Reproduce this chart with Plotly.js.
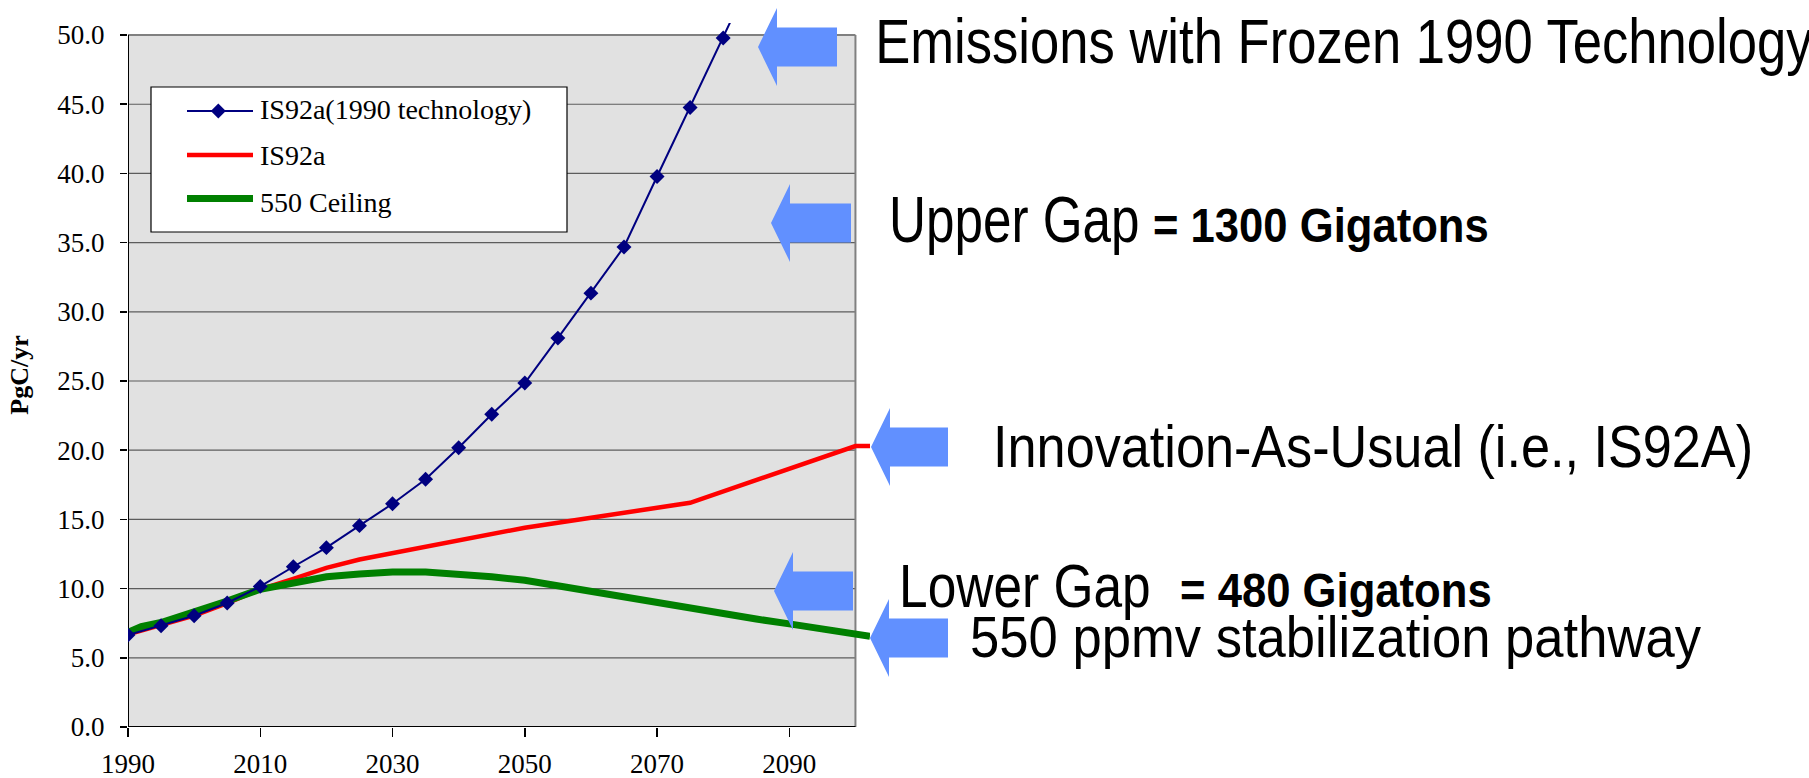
<!DOCTYPE html>
<html><head><meta charset="utf-8">
<script src="https://cdn.plot.ly/plotly-3.0.1.min.js"></script>
<style>html,body{margin:0;padding:0;background:#fff;} #chart{width:1809px;height:778px;}</style>
</head><body><div id="chart"></div>
<script>
// ---------------- data ----------------
const blueYears  = [1990,1995,2000,2005,2010,2015,2020,2025,2030,2035,2040,2045,2050,2055,2060,2065,2070,2075,2080,2085];
const blueValues = [6.65,7.32,8.04,8.96,10.16,11.58,12.96,14.55,16.13,17.9,20.18,22.6,24.85,28.1,31.35,34.69,39.78,44.77,49.78,54.9];
const redYears   = [1990,1995,2000,2005,2010,2015,2020,2025,2050,2075,2100,2102.2];
const redValues  = [6.7,7.35,8.05,8.95,9.95,10.7,11.5,12.1,14.4,16.2,20.3,20.3];
const greenYears  = [1990,1992,1995,2000,2005,2010,2015,2020,2025,2030,2035,2040,2045,2050,2055,2060,2065,2070,2075,2080,2085,2090,2095,2100,2102.2];
const greenValues = [6.85,7.25,7.55,8.3,9.1,9.95,10.45,10.85,11.05,11.2,11.2,11.05,10.85,10.6,10.2,9.8,9.4,9.0,8.55,8.1,7.8,7.45,7.05,6.65,6.55];
const seriesNames = ['IS92a(1990 technology)','IS92a','550 Ceiling'];
const xTickVals = [1990,2010,2030,2050,2070,2090];
const yTickVals = [0,5,10,15,20,25,30,35,40,45,50];
const yTickText = yTickVals.map(v => v.toFixed(1));
const yTitle = 'PgC/yr';
const calloutTexts = [
  'Emissions with Frozen 1990 Technology',
  'Upper Gap',
  '= 1300 Gigatons',
  'Innovation-As-Usual (i.e., IS92A)',
  'Lower Gap',
  '= 480 Gigatons',
  '550 ppmv stabilization pathway'
];

// ---------------- layout helpers ----------------
const W = 1809, H = 778, M = {l:128, r:939, t:23, b:51};
const PW = W - M.l - M.r, PH = H - M.t - M.b;
const px = v => (v - M.l) / PW;
const py = v => (H - M.b - v) / PH;
const X0 = 1990, X1 = 2100, YTOP = 50;

const BLUE = '#000080', RED = '#FF0000', GREEN = '#008000', ARROW = '#6190FF';
const serif = 'Liberation Serif, Times New Roman, serif';
const sans = 'Liberation Sans, Arial, sans-serif';

const shapes = [];
shapes.push({type:'rect', xref:'x', yref:'y', x0:X0, x1:X1, y0:0, y1:YTOP, fillcolor:'#E1E1E1', line:{width:0}, layer:'below'});
yTickVals.filter(v => v > 0 && v < YTOP).forEach(v => shapes.push({type:'line', xref:'x', yref:'y', x0:X0, x1:X1, y0:v, y1:v, line:{color:'#5c5c5c', width:1.2}, layer:'below'}));
shapes.push({type:'line', xref:'x', yref:'y', x0:X0, x1:X1, y0:YTOP, y1:YTOP, line:{color:'#808080', width:2}, layer:'below'});
shapes.push({type:'line', xref:'x', yref:'y', x0:X1, x1:X1, y0:0, y1:YTOP, line:{color:'#808080', width:2}, layer:'below'});
shapes.push({type:'line', xref:'x', yref:'y', x0:X0, x1:X0, y0:0, y1:YTOP, line:{color:'#000', width:2}, layer:'below'});
shapes.push({type:'line', xref:'x', yref:'y', x0:X0, x1:X1, y0:0, y1:0, line:{color:'#000', width:2}, layer:'below'});
xTickVals.filter(v => v > X0).forEach(v => shapes.push({type:'line', xref:'x', yref:'paper', x0:v, x1:v, y0:0, y1:7/PH, line:{color:'#000', width:1.5}, layer:'below'}));

// arrows (pixel geometry)
const arrows = [
  {tx:758, ty:47,  hx:777, ex:837},
  {tx:771, ty:223, hx:790, ex:851},
  {tx:871, ty:447, hx:890, ex:948},
  {tx:774, ty:591, hx:793, ex:853},
  {tx:870, ty:638, hx:889, ex:948}
];
arrows.forEach(a => {
  const hh = 39, sh = 19.5;
  const pts = [[a.tx,a.ty],[a.hx,a.ty-hh],[a.hx,a.ty-sh],[a.ex,a.ty-sh],[a.ex,a.ty+sh],[a.hx,a.ty+sh],[a.hx,a.ty+hh]];
  const path = 'M' + pts.map(p => px(p[0]).toFixed(5) + ',' + py(p[1]).toFixed(5)).join(' L') + ' Z';
  shapes.push({type:'path', xref:'paper', yref:'paper', path:path, fillcolor:ARROW, line:{width:0}, layer:'above'});
});

// manual legend
const leg = {x0:151, y0:87, x1:567, y1:232, lx0:187, lx1:253, rows:[111,155,198.5], textX:258, base:[119.3,165,211.7], fs:28};
shapes.push({type:'rect', xref:'paper', yref:'paper', x0:px(leg.x0), x1:px(leg.x1), y0:py(leg.y1), y1:py(leg.y0), fillcolor:'#fff', line:{color:'#000', width:1.2}, layer:'above'});
const legStyles = [{c:BLUE,w:2},{c:RED,w:4.5},{c:GREEN,w:7}];
legStyles.forEach((s,i) => shapes.push({type:'line', xref:'paper', yref:'paper', x0:px(leg.lx0), x1:px(leg.lx1), y0:py(leg.rows[i]), y1:py(leg.rows[i]), line:{color:s.c, width:s.w}, layer:'above'}));
{
  const cx = (leg.lx0 + leg.lx1)/2 - 1.7, cy = leg.rows[0], d = 7.5;
  const pts = [[cx,cy-d],[cx+d,cy],[cx,cy+d],[cx-d,cy]];
  shapes.push({type:'path', xref:'paper', yref:'paper', path:'M' + pts.map(p => px(p[0]).toFixed(5)+','+py(p[1]).toFixed(5)).join(' L')+' Z', fillcolor:BLUE, line:{width:0}, layer:'above'});
}

const annotations = [];
seriesNames.forEach((n,i) => annotations.push({xref:'paper', yref:'paper', x:px(leg.textX), y:py(leg.base[i] - 0.3375*leg.fs), xanchor:'left', yanchor:'middle', showarrow:false, text:n, font:{family:serif, size:leg.fs, color:'#000'}}));

// callout text placement: left px, baseline px, font size, horizontal squeeze, bold
const calloutPos = [
  {x:873,  base:63.3,  fs:63,   sx:0.835, b:false},
  {x:887,  base:241.7, fs:64,   sx:0.80,  b:false},
  {x:1151, base:241.7, fs:49,   sx:0.89,  b:true},
  {x:991,  base:467,   fs:60,   sx:0.87,  b:false},
  {x:897,  base:606.7, fs:61.5, sx:0.837, b:false},
  {x:1178, base:606.7, fs:48.5, sx:0.90,  b:true},
  {x:968,  base:656.7, fs:58,   sx:0.907, b:false}
];
const calloutStart = annotations.length;
calloutTexts.forEach((t,i) => {
  const p = calloutPos[i];
  annotations.push({xref:'paper', yref:'paper', x:px(p.x), y:py(p.base - 0.3465*p.fs), xanchor:'left', yanchor:'middle', showarrow:false, text:t,
    font:{family:sans, size:p.fs, color:'#000', weight:p.b ? 'bold' : 'normal'}});
});

const traces = [
  {x:redYears, y:redValues, name:seriesNames[1], mode:'lines', line:{color:RED, width:4.5}, showlegend:false},
  {x:greenYears, y:greenValues, name:seriesNames[2], mode:'lines', line:{color:GREEN, width:7}, showlegend:false},
  {x:blueYears, y:blueValues, name:seriesNames[0], mode:'lines+markers', line:{color:BLUE, width:2}, marker:{symbol:'diamond', size:11.5, color:BLUE}, showlegend:false}
];

const layout = {
  width:W, height:H, margin:M,
  paper_bgcolor:'#fff', plot_bgcolor:'rgba(0,0,0,0)',
  showlegend:false,
  xaxis:{range:[X0, 2102.2], tickvals:xTickVals, ticks:'outside', ticklen:9, tickwidth:1.5, tickcolor:'#000',
         showgrid:false, zeroline:false, showline:false, tickfont:{family:serif, size:27, color:'#000'}, ticklabelstandoff:4},
  yaxis:{range:[0, 50.87], tickvals:yTickVals, ticktext:yTickText, ticks:'outside', ticklen:7, tickwidth:1.5, tickcolor:'#000',
         showgrid:false, zeroline:false, showline:false, tickfont:{family:serif, size:27, color:'#000'}, ticklabelstandoff:10,
         title:{text:yTitle, font:{family:serif, size:26, color:'#000', weight:'bold'}, standoff:21}},
  shapes:shapes, annotations:annotations
};

Plotly.newPlot('chart', traces, layout, {staticPlot:true, displayModeBar:false}).then(gd => {
  // condensed (Arial Narrow-like) look for the callout texts: squeeze horizontally about their left edge
  calloutPos.forEach((p, i) => {
    const g = gd.querySelector('.annotation[data-index="' + (calloutStart + i) + '"]');
    if (!g) return;
    const t = g.querySelector('text.annotation-text');
    if (!t) return;
    const bb = t.getBBox();
    const prev = t.getAttribute('transform') || '';
    t.setAttribute('transform', prev + ' translate(' + bb.x + ',0) scale(' + p.sx + ',1) translate(' + (-bb.x) + ',0)');
  });
});
</script></body></html>
